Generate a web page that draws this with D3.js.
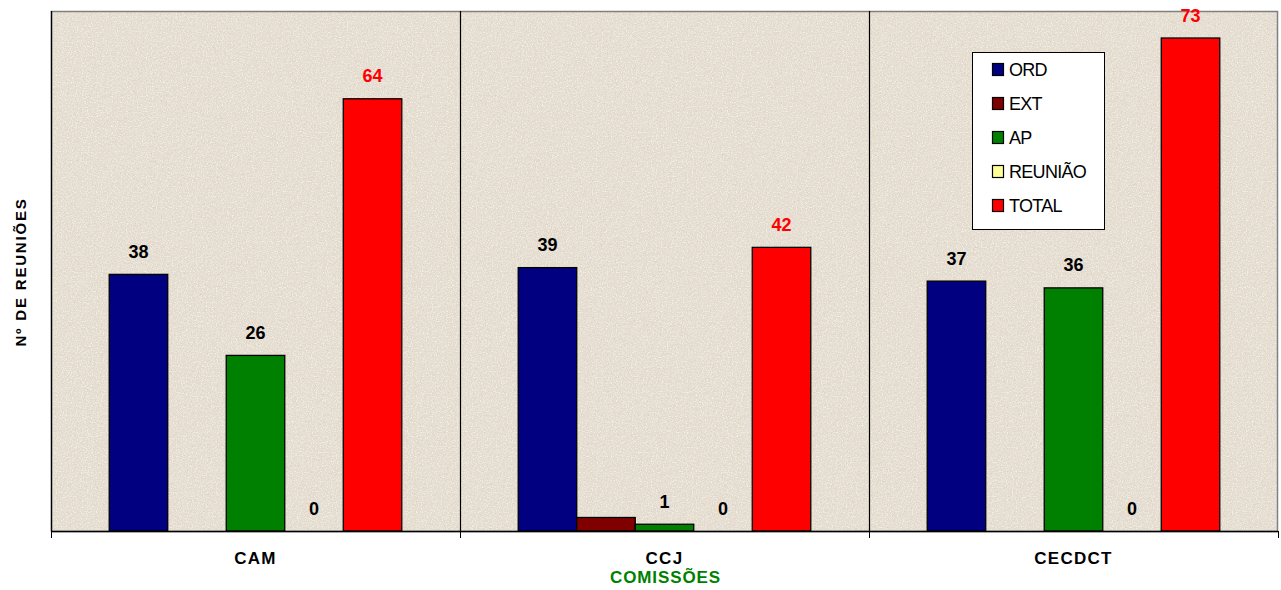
<!DOCTYPE html>
<html><head><meta charset="utf-8">
<script src="https://cdn.jsdelivr.net/npm/d3@7"></script>
<style>html,body{margin:0;padding:0;background:#fff;}svg{display:block;}</style>
</head><body>
<script>
const categories = ["CAM", "CCJ", "CECDCT"];
const seriesNames = ["ORD", "EXT", "AP", "REUNIÃO", "TOTAL"];
const ORD = [38, 39, 37];
const EXT = [0, 2, 0];
const AP = [26, 1, 36];
const REUNIAO = [0, 0, 0];
const TOTAL = [64, 42, 73];
const colors = ["#000080", "#800000", "#008000", "#ffff99", "#ff0000"];
const showLabel = [true, false, true, true, true];
const yMax = 77;

const W = 1281, H = 590;
const m = {left: 51, right: 1278, top: 11, bottom: 531};
const FONT = "Liberation Sans, Arial, sans-serif";
const svg = d3.select("body").append("svg").attr("width", W).attr("height", H);

const defs = svg.append("defs");
const f = defs.append("filter").attr("id", "tex").attr("x", 0).attr("y", 0).attr("width", "100%").attr("height", "100%");
f.append("feTurbulence").attr("type", "fractalNoise").attr("baseFrequency", "0.7").attr("numOctaves", 3).attr("seed", 7).attr("result", "t");
f.append("feColorMatrix").attr("in", "t").attr("type", "matrix").attr("result", "dark")
  .attr("values", "0 0 0 0 0.66  0 0 0 0 0.58  0 0 0 0 0.49  3.2 0 0 0 -1.8");
const f2 = defs.append("filter").attr("id", "tex2").attr("x", 0).attr("y", 0).attr("width", "100%").attr("height", "100%");
f2.append("feTurbulence").attr("type", "fractalNoise").attr("baseFrequency", "0.8").attr("numOctaves", 2).attr("seed", 21).attr("result", "t");
f2.append("feColorMatrix").attr("in", "t").attr("type", "matrix")
  .attr("values", "0 0 0 0 0.97  0 0 0 0 0.95  0 0 0 0 0.91  0 -3 0 0 1.6");

const allSeries = [ORD, EXT, AP, REUNIAO, TOTAL];
const data = categories.map((c, i) => ({cat: c, vals: allSeries.map((s, k) => ({key: seriesNames[k], k, v: s[i]}))}));

const x0 = d3.scaleBand().domain(categories).range([m.left, m.right]).paddingInner(0).paddingOuter(0);
const x1 = d3.scaleBand().domain(seriesNames).range([0, x0.bandwidth()]).paddingInner(0).paddingOuter(0.995);
const y = d3.scaleLinear().domain([0, yMax]).range([m.bottom, m.top]);

// plot background
svg.append("rect").attr("x", m.left).attr("y", m.top).attr("width", m.right - m.left).attr("height", m.bottom - m.top).attr("fill", "#e4dccf");
svg.append("rect").attr("x", m.left).attr("y", m.top).attr("width", m.right - m.left).attr("height", m.bottom - m.top).attr("filter", "url(#tex)").attr("opacity", 0.7);
svg.append("rect").attr("x", m.left).attr("y", m.top).attr("width", m.right - m.left).attr("height", m.bottom - m.top).attr("filter", "url(#tex2)").attr("opacity", 0.7);
// border
svg.append("rect").attr("x", m.left + 0.5).attr("y", m.top + 0.5).attr("width", m.right - m.left - 1).attr("height", m.bottom - m.top).attr("fill", "none").attr("stroke", "#808080").attr("stroke-width", 1.5);

// category separators
categories.slice(1).forEach(c => {
  const xx = Math.round(x0(c)) + 0.5;
  svg.append("line").attr("x1", xx).attr("x2", xx).attr("y1", m.top).attr("y2", m.bottom).attr("stroke", "#000").attr("stroke-width", 1.2);
});

// bars
const g = svg.append("g");
const grp = g.selectAll("g.cat").data(data).join("g").attr("transform", d => `translate(${x0(d.cat)},0)`);
grp.selectAll("rect").data(d => d.vals.filter(v => v.v > 0)).join("rect")
  .attr("x", d => x1(d.key)).attr("width", x1.bandwidth())
  .attr("y", d => y(d.v)).attr("height", d => y(0) - y(d.v))
  .attr("fill", d => colors[d.k]).attr("stroke", "#000").attr("stroke-width", 1.3);
grp.selectAll("text").data(d => d.vals.filter(v => showLabel[v.k])).join("text")
  .attr("x", d => x1(d.key) + x1.bandwidth() / 2)
  .attr("y", d => y(d.v) - 16.5)
  .attr("text-anchor", "middle")
  .attr("font-family", FONT).attr("font-weight", "bold").attr("font-size", 18)
  .attr("fill", d => d.k === 4 ? "#ff0000" : "#000")
  .text(d => d.v);

// axes
const xAxis = svg.append("g").attr("transform", `translate(0,${m.bottom})`);
xAxis.append("line").attr("x1", m.left).attr("x2", m.right).attr("y1", 0.5).attr("y2", 0.5).attr("stroke", "#000").attr("stroke-width", 1.5);
const ticks = categories.map(c => x0(c)).concat([m.right]);
xAxis.selectAll("line.tk").data(ticks).join("line").attr("class", "tk")
  .attr("x1", d => Math.round(d) + 0.5).attr("x2", d => Math.round(d) + 0.5).attr("y1", 0).attr("y2", 7).attr("stroke", "#000");
xAxis.selectAll("text").data(categories).join("text")
  .attr("x", d => x0(d) + x0.bandwidth() / 2).attr("y", 33)
  .attr("text-anchor", "middle").attr("font-family", FONT).attr("font-weight", "bold").attr("font-size", 17).attr("letter-spacing", 1.3)
  .text(d => d);
svg.append("line").attr("x1", m.left + 0.5).attr("x2", m.left + 0.5).attr("y1", m.top).attr("y2", m.bottom).attr("stroke", "#000").attr("stroke-width", 1.3);

// axis titles
svg.append("text").attr("x", (m.left + m.right) / 2 + 1).attr("y", 583).attr("text-anchor", "middle")
  .attr("font-family", FONT).attr("font-weight", "bold").attr("font-size", 17).attr("fill", "#008000").attr("letter-spacing", 0.9)
  .text("COMISSÕES");
svg.append("text").attr("transform", "translate(26,272) rotate(-90)").attr("text-anchor", "middle")
  .attr("font-family", FONT).attr("font-weight", "bold").attr("font-size", 15).attr("letter-spacing", 1.8)
  .text("Nº DE REUNIÕES");

// legend
const lg = svg.append("g").attr("transform", "translate(972,52)");
lg.append("rect").attr("x", 0.5).attr("y", 0.5).attr("width", 132).attr("height", 177).attr("fill", "#fff").attr("stroke", "#000");
seriesNames.forEach((s, i) => {
  const cy = 17 + i * 34;
  lg.append("rect").attr("x", 20.5).attr("y", cy - 5.5).attr("width", 11).attr("height", 12).attr("fill", colors[i]).attr("stroke", "#000").attr("stroke-width", 1.2);
  lg.append("text").attr("x", 37).attr("y", cy + 7).attr("font-family", FONT).attr("font-size", 18).attr("letter-spacing", -0.7).text(s);
});
</script>
</body></html>
